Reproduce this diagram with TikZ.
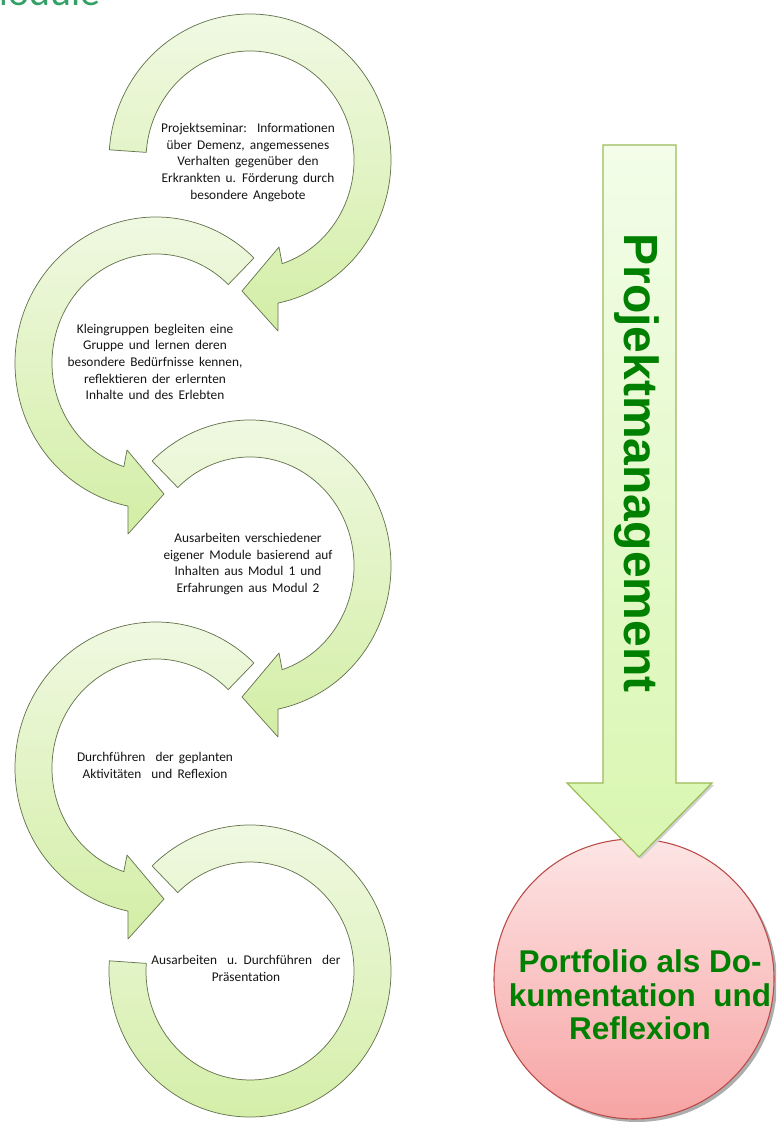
\documentclass[tikz,border=0pt]{standalone}
\usepackage{fontspec}
\setmainfont{Carlito}
\newfontfamily\arialfont{Liberation Sans}
\usetikzlibrary{calc}
\definecolor{ringdraw}{HTML}{66754F}
\definecolor{ringtop}{HTML}{F1F9E4}
\definecolor{ringbot}{HTML}{D3EEA6}
\definecolor{txtgreen}{HTML}{008000}
\definecolor{titlegreen}{HTML}{33A065}
\definecolor{pmtop}{HTML}{F3FDE9}
\definecolor{pmbot}{HTML}{D9F6B0}
\definecolor{pmdraw}{HTML}{9BBB59}
\definecolor{pftop}{HTML}{FDE5E5}
\definecolor{pfbot}{HTML}{F7A3A3}
\definecolor{pfdraw}{HTML}{B94A48}
\newcommand\widespaces{\spaceskip=0.38em\relax}
\tikzset{
  ring/.style={top color=ringtop, bottom color=ringbot, draw=ringdraw, line width=0.55pt, line join=round},
  steptext/.style={font=\fontsize{10}{12.5}\selectfont, execute at begin node=\widespaces, align=center, text=black!92, inner sep=0pt},
  pmarrow/.style={top color=pmtop, bottom color=pmbot, draw=pmdraw, line width=0.9pt, line join=miter},
  bigtext/.style={text=txtgreen, inner sep=0pt},
}
% circular arrow: #1 = start angle (clockwise run to arrowhead at the bottom)
\newcommand\ringarrow[1]{%
  \path[ring] (#1:141 and 146) arc[start angle=#1, end angle=-78.5, x radius=141, y radius=146]
    -- (28,-171) -- (-8,-131) -- (29,-87) -- (-72:104 and 109)
    arc[start angle=-72, end angle=#1, x radius=104, y radius=109] -- cycle;}
\begin{document}
\begin{tikzpicture}[x=0.75pt,y=0.75pt]
\useasboundingbox (0,0) rectangle (776,1122);
\clip (0,0) rectangle (776,1122);

% title (cut at the top edge)
\node[font=\fontsize{30}{30}\selectfont, text=titlegreen, anchor=base west, inner sep=0pt] (title) at (-26,1116) {Module};

% ring arrows
\begin{scope}[shift={(250,962)}] \ringarrow{176} \end{scope}
\begin{scope}[shift={(156,759)}, xscale=-1] \ringarrow{134} \end{scope}
\begin{scope}[shift={(250,556)}] \ringarrow{134} \end{scope}
\begin{scope}[shift={(156,354)}, xscale=-1] \ringarrow{134} \end{scope}
\begin{scope}[shift={(250,151)}]
  \path[ring] (134:141 and 146) arc[start angle=134, end angle=-184, x radius=141, y radius=146]
    -- (-184:104 and 109) arc[start angle=-184, end angle=134, x radius=104, y radius=109] -- cycle;
\end{scope}

% texts in the rings
\node[steptext] (t1) at (248,959.5) {Projektseminar:\ \ Informationen\\über Demenz, angemessenes\\Verhalten gegenüber den\\Erkrankten u. Förderung durch\\besondere Angebote};
\node[steptext] (t2) at (155,760) {Kleingruppen begleiten eine\\Gruppe und lernen deren\\besondere Bedürfnisse kennen,\\reflektieren der erlernten\\Inhalte und des Erlebten};
\node[steptext] (t3) at (248,558) {Ausarbeiten verschiedener\\eigener Module basierend auf\\Inhalten aus Modul 1 und\\Erfahrungen aus Modul 2};
\node[steptext] (t4) at (155,356.5) {Durchführen\ \ der geplanten\\Aktivitäten\ \ und Reflexion};
\node[steptext] (t5) at (246,153.5) {Ausarbeiten\ \ u. Durchführen\ \ der\\Präsentation};

% portfolio circle
\fill[black!32] (637,140) circle[radius=140];
\node[circle, minimum size=210pt, inner sep=0pt, draw=pfdraw, line width=0.8pt, top color=pftop, bottom color=pfbot] (pf) at (634,143) {};

% Projektmanagement arrow
\fill[black!18] (569,337) -- (641,263) -- (714,337) -- cycle;
\path[pmarrow] (603,977) -- (676,977) -- (676,339) -- (712,339) -- (639,265) -- (567,339) -- (603,339) -- cycle;
\coordinate (pmtip) at (639,265);
\node[bigtext, font=\arialfont\bfseries\fontsize{36}{36}\selectfont, rotate=-90, anchor=base] (pm) at (624,659) {Projektmanagement};

\node[bigtext, font=\arialfont\bfseries\fontsize{23.6}{25.1}\selectfont, align=center] (pftext) at (640,127) {Portfolio als Do-\\kumentation\ \ und\\Reflexion};
\end{tikzpicture}
\end{document}
